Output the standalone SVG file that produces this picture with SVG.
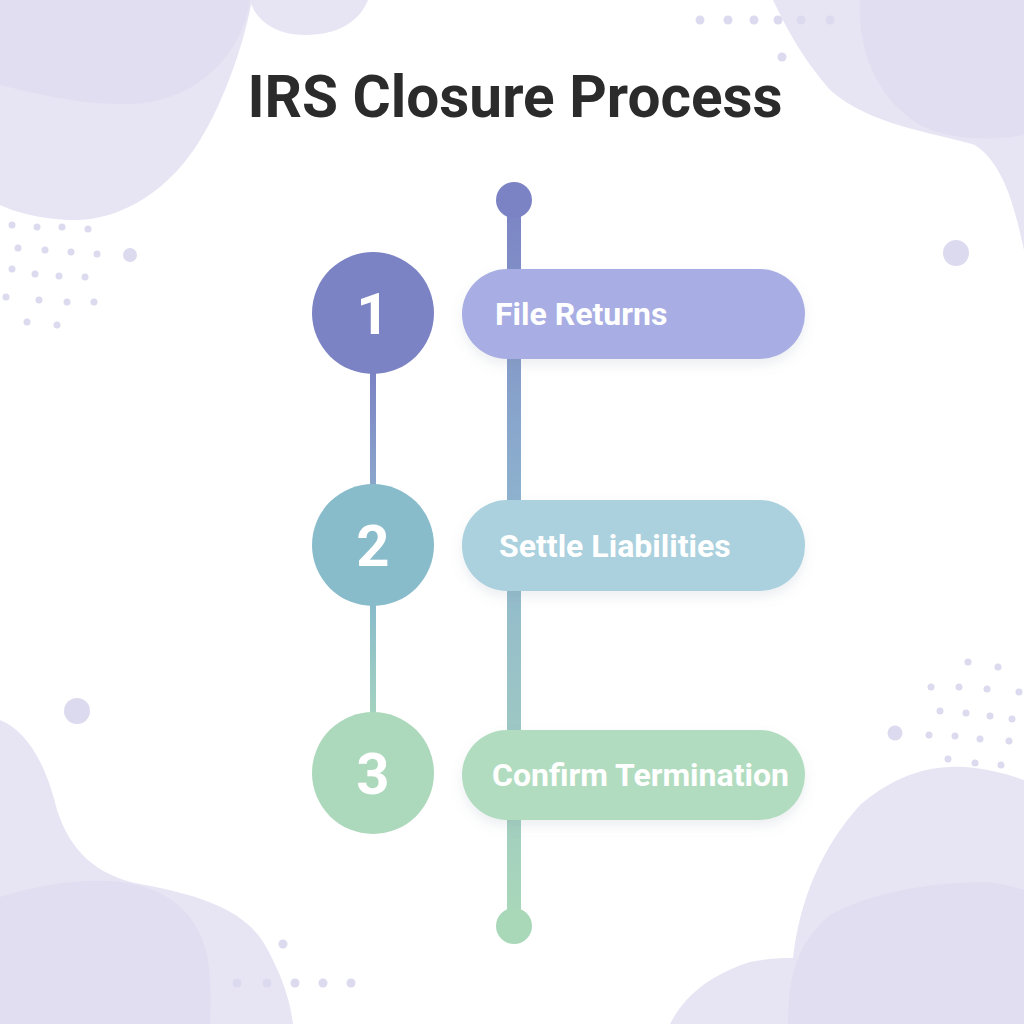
<svg xmlns="http://www.w3.org/2000/svg" width="1024" height="1024" viewBox="0 0 1024 1024">
  <defs>
    <linearGradient id="spine" x1="0" y1="200" x2="0" y2="926" gradientUnits="userSpaceOnUse">
      <stop offset="0" stop-color="#7b83c4"/>
      <stop offset="0.45" stop-color="#8fb6cf"/>
      <stop offset="1" stop-color="#a9d8b9"/>
    </linearGradient>
    <linearGradient id="link1" x1="0" y1="373" x2="0" y2="485" gradientUnits="userSpaceOnUse">
      <stop offset="0" stop-color="#7b83c4"/>
      <stop offset="1" stop-color="#8aa6cc"/>
    </linearGradient>
    <linearGradient id="link2" x1="0" y1="606" x2="0" y2="713" gradientUnits="userSpaceOnUse">
      <stop offset="0" stop-color="#88bccb"/>
      <stop offset="1" stop-color="#a3d2c0"/>
    </linearGradient>
    <filter id="shadow" x="-10%" y="-20%" width="120%" height="160%">
      <feDropShadow dx="0" dy="6" stdDeviation="6" flood-color="#7a8a9a" flood-opacity="0.14"/>
    </filter>
  </defs>
  <style>
    .blob { fill: #e7e5f4; }
    .blob2 { fill: #dfdcef; opacity: 0.7; }
    .dot { fill: #dcdaef; }
    .num { font-family: Roboto, "Liberation Sans", sans-serif; font-weight: 700; font-size: 58px; fill: #ffffff; text-anchor: middle; }
    .lbl { font-family: Roboto, "Liberation Sans", sans-serif; font-weight: 700; font-size: 32px; fill: #ffffff; }
    .title { font-family: Roboto, "Liberation Sans", sans-serif; font-weight: 700; font-size: 58.5px; fill: #2b2b2b; text-anchor: middle; }
  </style>
  <rect width="1024" height="1024" fill="#ffffff"/>

  <!-- background blobs -->
  <g id="background">
    <path class="blob" d="M0,0 L252,0 C245,40 225,100 200,140 C170,190 120,222 70,220 C40,219 15,212 0,205 Z"/>
    <path class="blob2" d="M0,0 L250,0 C245,40 215,85 160,100 C110,112 40,95 0,85 Z"/>
    <path class="blob" d="M250,0 L368,0 C360,20 340,35 305,35 C275,35 255,20 250,0 Z"/>
    <path class="blob" d="M773,0 C785,25 800,55 830,90 C870,125 930,132 975,145 C1005,165 1015,210 1024,250 L1024,0 Z"/>
    <path class="blob2" d="M860,0 C858,40 870,95 920,125 C955,142 995,140 1024,135 L1024,0 Z"/>
    <path class="blob" d="M0,720 C25,730 45,760 57,810 C70,850 95,875 140,884 C200,895 245,910 265,945 C282,975 290,1000 293,1024 L0,1024 Z"/>
    <path class="blob2" d="M0,897 C40,885 80,878 120,882 C170,888 200,915 208,960 C212,990 210,1010 210,1024 L0,1024 Z"/>
    <path class="blob" d="M670,1024 C685,995 710,975 750,962 C770,958 785,958 793,958 C800,900 820,850 860,805 C895,775 930,765 965,767 C990,769 1010,775 1024,780 L1024,1024 Z"/>
    <path class="blob2" d="M788,1024 C788,980 795,945 830,915 C870,893 930,882 985,882 C1005,884 1018,888 1024,890 L1024,1024 Z"/>

    <!-- dots -->
    <g>
      <circle class="dot" cx="12" cy="225" r="3.5"/><circle class="dot" cx="37" cy="227" r="3.5"/><circle class="dot" cx="62" cy="227" r="3.5"/><circle class="dot" cx="88" cy="229" r="3.5"/>
      <circle class="dot" cx="18" cy="248" r="3.5"/><circle class="dot" cx="45" cy="250" r="3.5"/><circle class="dot" cx="71" cy="252" r="3.5"/><circle class="dot" cx="97" cy="254" r="3.5"/>
      <circle class="dot" cx="12" cy="269" r="3.5"/><circle class="dot" cx="35" cy="274" r="3.5"/><circle class="dot" cx="59" cy="276" r="3.5"/><circle class="dot" cx="85" cy="277" r="3.5"/>
      <circle class="dot" cx="6" cy="297" r="3.5"/><circle class="dot" cx="39" cy="300" r="3.5"/><circle class="dot" cx="67" cy="302" r="3.5"/><circle class="dot" cx="94" cy="302" r="3.5"/>
      <circle class="dot" cx="27" cy="322" r="3.5"/><circle class="dot" cx="57" cy="325" r="3.5"/>
      <circle class="dot" cx="130" cy="255" r="7"/>
    </g>
    <g>
      <circle class="dot" cx="700" cy="20" r="4.5"/><circle class="dot" cx="728" cy="20" r="4.5"/><circle class="dot" cx="754" cy="20" r="4.5"/><circle class="dot" cx="778" cy="20" r="4.5"/><circle class="dot" cx="801" cy="20" r="4.5"/><circle class="dot" cx="830" cy="20" r="4.5"/>
      <circle class="dot" cx="782" cy="57" r="4.5"/>
      <circle class="dot" cx="956" cy="253" r="13"/>
    </g>
    <g>
      <circle class="dot" cx="77" cy="711" r="13"/>
      <circle class="dot" cx="283" cy="944" r="4.5"/>
      <circle class="dot" cx="237" cy="983" r="4.5"/><circle class="dot" cx="267" cy="983" r="4.5"/><circle class="dot" cx="295" cy="983" r="4.5"/><circle class="dot" cx="323" cy="983" r="4.5"/><circle class="dot" cx="351" cy="983" r="4.5"/>
    </g>
    <g>
      <circle class="dot" cx="968" cy="662" r="3.5"/><circle class="dot" cx="998" cy="667" r="3.5"/>
      <circle class="dot" cx="931" cy="687" r="3.5"/><circle class="dot" cx="959" cy="687" r="3.5"/><circle class="dot" cx="987" cy="689" r="3.5"/><circle class="dot" cx="1019" cy="692" r="3.5"/>
      <circle class="dot" cx="940" cy="711" r="3.5"/><circle class="dot" cx="966" cy="713" r="3.5"/><circle class="dot" cx="990" cy="716" r="3.5"/><circle class="dot" cx="1012" cy="719" r="3.5"/>
      <circle class="dot" cx="895" cy="733" r="7.5"/>
      <circle class="dot" cx="929" cy="735" r="3.5"/><circle class="dot" cx="955" cy="736" r="3.5"/><circle class="dot" cx="980" cy="739" r="3.5"/><circle class="dot" cx="1009" cy="741" r="3.5"/>
      <circle class="dot" cx="948" cy="759" r="3.5"/><circle class="dot" cx="975" cy="763" r="3.5"/><circle class="dot" cx="1001" cy="765" r="3.5"/>
    </g>
  </g>

  <text class="title" x="515" y="117">IRS Closure Process</text>

  <!-- connectors -->
  <g id="connectors">
    <rect x="507" y="200" width="14" height="726" fill="url(#spine)"/>
    <circle cx="514" cy="200" r="18" fill="#7b83c4"/>
    <circle cx="514" cy="926" r="18" fill="#a9d8b9"/>
    <rect x="370" y="370" width="6" height="118" fill="url(#link1)"/>
    <rect x="370" y="603" width="6" height="113" fill="url(#link2)"/>
  </g>

  <g id="step1">
    <rect x="462" y="269" width="343" height="90" rx="45" fill="#a8aee3" filter="url(#shadow)"/>
    <circle cx="373" cy="313" r="61" fill="#7b83c4"/>
    <text class="num" x="373" y="334">1</text>
    <text class="lbl" x="495" y="325">File Returns</text>
  </g>
  <g id="step2">
    <rect x="462" y="500" width="343" height="91" rx="45" fill="#abd1de" filter="url(#shadow)"/>
    <circle cx="373" cy="545" r="61" fill="#88bccb"/>
    <text class="num" x="373" y="566">2</text>
    <text class="lbl" x="499" y="557">Settle Liabilities</text>
  </g>
  <g id="step3">
    <rect x="462" y="730" width="343" height="90" rx="45" fill="#b2dcc0" filter="url(#shadow)"/>
    <circle cx="373" cy="773" r="61" fill="#acd8bb"/>
    <text class="num" x="373" y="794">3</text>
    <text class="lbl" x="492" y="786">Confirm Termination</text>
  </g>
</svg>
